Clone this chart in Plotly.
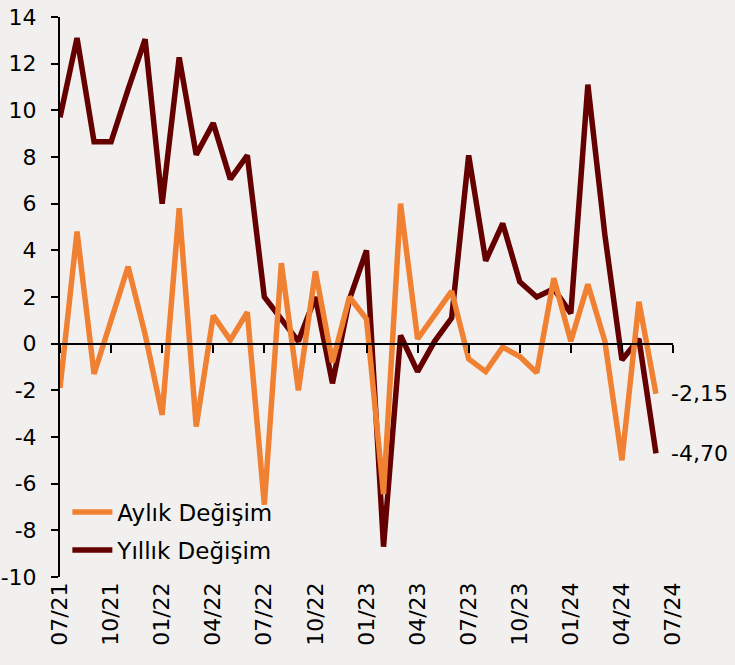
import plotly.graph_objects as go

months = list(range(36))  # 07/21 .. 06/24
tick_pos = list(range(0, 37, 3))
tick_labels = ["07/21", "10/21", "01/22", "04/22", "07/22", "10/22", "01/23",
               "04/23", "07/23", "10/23", "01/24", "04/24", "07/24"]

aylik = [-1.9, 4.8, -1.3, 0.95, 3.3, 0.4, -3.05, 5.8, -3.55, 1.2, 0.15, 1.35,
         -6.9, 3.45, -2.0, 3.1, -0.8, 2.0, 1.05, -6.45, 6.0, 0.2, 1.2, 2.25,
         -0.65, -1.2, -0.15, -0.55, -1.25, 2.8, 0.1, 2.55, 0.1, -5.0, 1.8, -2.15]
yillik = [9.7, 13.1, 8.65, 8.65, 10.9, 13.05, 6.0, 12.27, 8.1, 9.45, 7.05, 8.07,
          2.0, 1.0, 0.1, 2.0, -1.7, 1.9, 4.0, -8.7, 0.35, -1.2, 0.1, 1.1,
          8.07, 3.55, 5.15, 2.65, 2.0, 2.35, 1.3, 11.1, 4.65, -0.7, 0.2, -4.7]
last_labels = ["-2,15", "-4,70"]

y_ticks = list(range(-10, 15, 2))
y_ticktext = [str(v) for v in y_ticks]

ORANGE = "#F08132"
DARK = "#640000"
FONT = "DejaVu Sans"
BG = "#F2F0EF"

fig = go.Figure()
fig.add_trace(go.Scatter(x=months, y=yillik, mode="lines", name="Yıllık Değişim",
                         legend="legend2",
                         line=dict(color=DARK, width=5.5)))
fig.add_trace(go.Scatter(x=months, y=aylik, mode="lines", name="Aylık Değişim",
                         legend="legend",
                         line=dict(color=ORANGE, width=5.5)))

for series, lab in zip([aylik, yillik], last_labels):
    fig.add_annotation(x=months[-1], y=series[-1], text=lab, showarrow=False,
                       xanchor="left", yanchor="middle", xshift=13,
                       font=dict(family=FONT, size=22, color="black"))

leg_common = dict(xanchor="left", yanchor="middle", bgcolor="rgba(0,0,0,0)",
                  font=dict(family=FONT, size=23, color="black"), itemwidth=40)

fig.update_layout(
    width=735, height=665,
    margin=dict(l=60, r=62, t=17, b=88, autoexpand=False),
    paper_bgcolor=BG, plot_bgcolor=BG,
    font=dict(family=FONT, size=22, color="black"),
    showlegend=True,
    legend=dict(x=0.012, y=(577 - 512) / 560, **leg_common),
    legend2=dict(x=0.012, y=(577 - 550) / 560, **leg_common),
    xaxis=dict(range=[0, 36], tickvals=tick_pos, ticktext=tick_labels,
               tickangle=-90, showline=False, ticks="", showgrid=False,
               zeroline=False, automargin=False,
               tickfont=dict(family=FONT, size=22)),
    xaxis2=dict(range=[0, 36], overlaying="x", matches="x", anchor="free",
                position=10 / 24, side="bottom", tickvals=tick_pos,
                showticklabels=False, showline=True, linecolor="black",
                linewidth=2, ticks="outside", ticklen=8, tickwidth=2,
                tickcolor="black", showgrid=False, zeroline=False,
                automargin=False),
    yaxis=dict(range=[-10, 14], tickvals=y_ticks, ticktext=y_ticktext,
               showline=True, linecolor="black", linewidth=2, ticks="outside",
               ticklen=7, tickwidth=2, tickcolor="black", showgrid=False,
               zeroline=False, automargin=False, ticklabelstandoff=10,
               tickfont=dict(family=FONT, size=22)),
)
# invisible helper trace so the zero-line axis is drawn
fig.add_trace(go.Scatter(x=[0, 36], y=[0, 0], xaxis="x2", mode="lines",
                         line=dict(width=0), hoverinfo="skip", showlegend=False))

fig.write_html("out.html", config={"displayModeBar": False},
               post_script="document.body.style.margin='0';"
                           "document.body.style.background='" + BG + "';")
